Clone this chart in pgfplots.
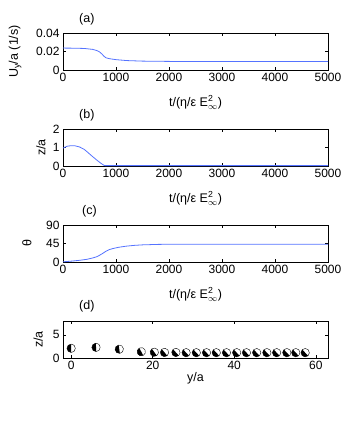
\documentclass[border=0pt]{standalone}
\usepackage{fontspec}
\setmainfont{Liberation Sans}
\usepackage{pgfplots}
\pgfplotsset{compat=1.18}

\definecolor{mline}{RGB}{85,115,255}

% half black / half white disc, black half on the left (turn it with mark options)
\pgfdeclareplotmark{janus}{%
  \pgfsetfillcolor{white}%
  \pgfpathcircle{\pgfpointorigin}{\pgfplotmarksize}%
  \pgfusepath{fill}%
  \pgfsetfillcolor{black}%
  \pgfpathmoveto{\pgfpoint{0pt}{\pgfplotmarksize}}%
  \pgfpatharc{90}{270}{\pgfplotmarksize}%
  \pgfpathclose
  \pgfusepath{fill}%
  \pgfsetstrokecolor{black}%
  \pgfsetlinewidth{0.4pt}%
  \pgfpathcircle{\pgfpointorigin}{\pgfplotmarksize}%
  \pgfusepath{stroke}%
}

\pgfplotsset{
  panel/.style={
    width=265pt, height=37pt, scale only axis,
    anchor=south west, clip=false,
    axis line style={black, line width=0.5pt},
    tick align=inside,
    major tick length=3pt,
    tick style={black, line width=0.4pt},
    ticklabel style={font=\fontsize{12}{14}\selectfont},
    label style={font=\fontsize{12.5}{14}\selectfont},
    scaled ticks=false,
    /pgf/number format/1000 sep={},
    /pgf/number format/assume math mode=true,
    xlabel style={at={(axis description cs:0.5,-0.88)}, anchor=center},
  },
  tpanel/.style={
    panel,
    xmin=0, xmax=5000,
    xtick={0,1000,2000,3000,4000,5000},
    xlabel={t/(η/ε E$^{\mathrm{2}}_{\infty}$)},
  },
  curve/.style={mline, line width=0.8pt},
  % one snapshot group, turned by theta degrees
  snap/.style={only marks, black, mark=janus, mark size=4.2pt,
    mark options={rotate=#1}},
}

\begin{document}
\begin{tikzpicture}
\path[use as bounding box] (0,0) rectangle (361pt,-439pt);

% (a)
\begin{axis}[tpanel, at={(63pt,-70pt)},
  ymin=0, ymax=0.04, ytick={0,0.02,0.04}, yticklabels={0,0.02,0.04},
  ylabel={U\textsubscript{y}/a (1/s)},
  ylabel style={at={(axis description cs:-0.181,0.5)}, anchor=center}]
\addplot[curve] coordinates {
  (0,0.0237) (200,0.0236) (400,0.0233) (560,0.0223) (640,0.0210)
  (690,0.0195) (740,0.0170) (770,0.0150) (810,0.0132) (880,0.0122)
  (1000,0.0112) (1200,0.0102) (1500,0.0096) (2000,0.0093) (3000,0.0092)
  (5000,0.0092)
};
\node[font=\fontsize{12.5}{14}\selectfont] at (axis description cs:0.09,1.37) {(a)};
\end{axis}

% (b)
\begin{axis}[tpanel, at={(63pt,-166pt)},
  ymin=0, ymax=2, ytick={0,1,2},
  ylabel={z/a},
  ylabel style={at={(axis description cs:-0.083,0.5)}, anchor=center}]
\addplot[curve] coordinates {
  (0,0.97) (80,1.07) (156,1.10) (230,1.09) (312,1.03) (400,0.90)
  (470,0.73) (550,0.53) (625,0.35) (700,0.18) (770,0.04) (800,0.02)
  (1000,0.02) (5000,0.02)
};
\node[font=\fontsize{12.5}{14}\selectfont] at (axis description cs:0.09,1.37) {(b)};
\end{axis}

% (c)
\begin{axis}[tpanel, at={(63pt,-262pt)},
  ymin=0, ymax=90, ytick={0,45,90},
  ylabel={θ},
  ylabel style={at={(axis description cs:-0.136,0.5)}, anchor=center}]
\addplot[curve] coordinates {
  (0,0.5) (150,2) (312,4.1) (450,6.5) (560,9.8) (640,13) (690,16.4)
  (750,21) (810,26.2) (870,30) (940,32.7) (1050,35.8) (1190,38.5)
  (1350,40.5) (1500,41.7) (1810,42.9) (2200,43.3) (5000,43.4)
};
\node[font=\fontsize{12.5}{14}\selectfont] at (axis description cs:0.10,1.37) {(c)};
\end{axis}

% (d)
\begin{axis}[panel, at={(63pt,-358pt)},
  xmin=-2, xmax=63, xtick={0,20,40,60},
  ymin=0, ymax=8, ytick={0,5},
  xlabel={y/a},
  xlabel style={at={(axis description cs:0.5,-0.54)}, anchor=center},
  ylabel={z/a},
  ylabel style={at={(axis description cs:-0.094,0.5)}, anchor=center}]
\addplot[snap=0]  coordinates {(0.0,2.1)};
\addplot[snap=2]  coordinates {(6.1,2.3)};
\addplot[snap=8]  coordinates {(11.8,1.9)};
\addplot[snap=28] coordinates {(17.2,1.35)};
\addplot[snap=36] coordinates {(20.4,1.25)};
\addplot[snap=40] coordinates {(22.9,1.2)};
\addplot[snap=42] coordinates {(25.7,1.2)};
\addplot[snap=43] coordinates {
  (28.2,1.15) (30.7,1.15) (33.2,1.15) (35.6,1.15) (38.1,1.15)
  (40.6,1.15) (43.0,1.15) (45.5,1.15) (48.0,1.15) (50.4,1.15)
  (52.9,1.15) (55.1,1.15) (57.4,1.15)
};
\node[font=\fontsize{12.5}{14}\selectfont] at (axis description cs:0.09,1.4) {(d)};
\end{axis}
\end{tikzpicture}
\end{document}
